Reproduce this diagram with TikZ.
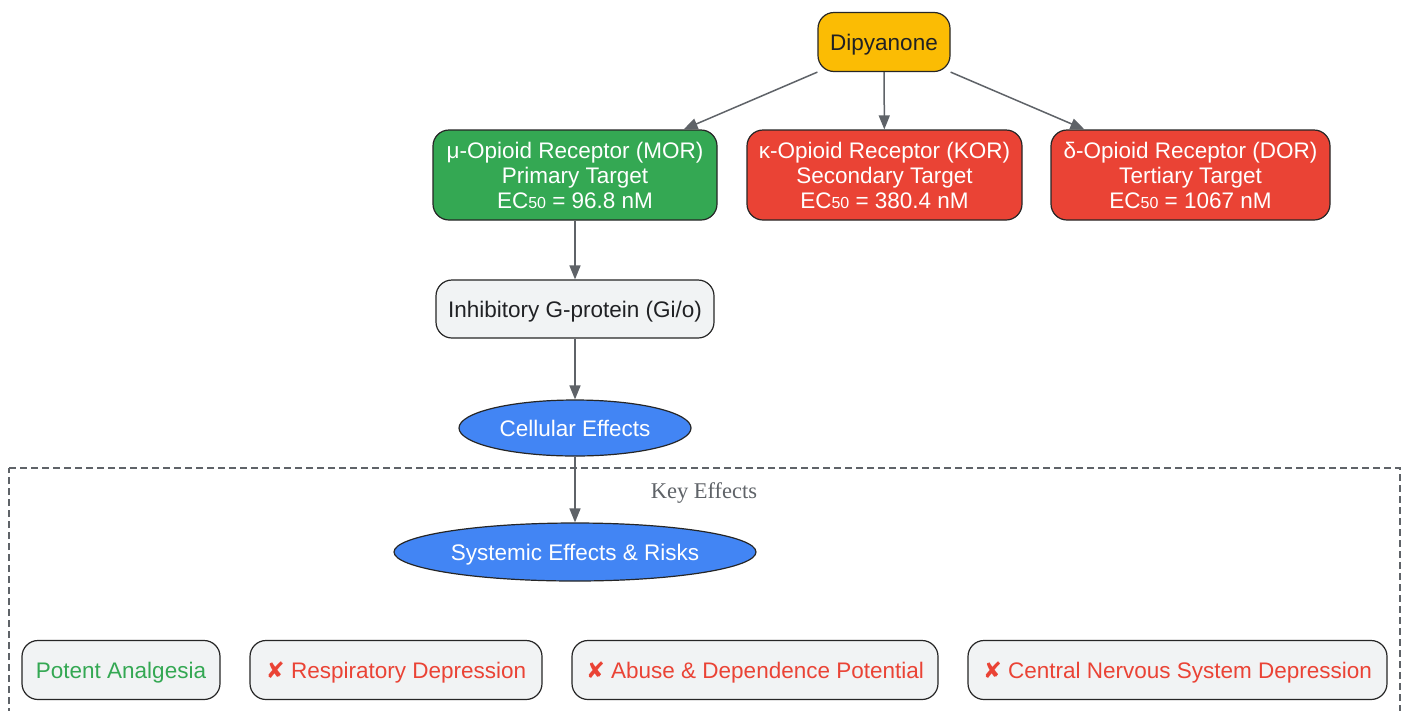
\documentclass[tikz,border=0pt]{standalone}
\usepackage{fontspec}
\setmainfont{Liberation Sans}
\newfontfamily\keyfont{Liberation Serif}
\newfontfamily\symfont{DejaVu Sans}
\usetikzlibrary{arrows.meta,shapes.geometric,positioning}
\definecolor{dipyellow}{HTML}{FBBC04}
\definecolor{morgreen}{HTML}{34A853}
\definecolor{riskred}{HTML}{EA4335}
\definecolor{effblue}{HTML}{4285F4}
\definecolor{boxgray}{HTML}{F1F3F4}
\definecolor{edgegray}{HTML}{5F6368}
\definecolor{darktext}{HTML}{202124}
\newcommand{\ecsub}{EC{\fontsize{16}{16}\selectfont\raisebox{-0.5pt}{50}}}
\newcommand{\cross}{{\symfont\char"2718}}
\tikzset{
    >={Triangle[length=14pt,width=11pt]},
    basebox/.style={
        rectangle,
        rounded corners=16pt,
        draw=black!85, line width=1.2pt,
        align=center,
        inner sep=0pt,
        text depth=0pt,
        font={\fontsize{22.5}{25}\selectfont}
    },
    dipbox/.style={basebox, fill=dipyellow, text=darktext,
        minimum width=132pt, minimum height=59pt},
    targetbox/.style={basebox, text=white,
        minimum height=90pt},
    protbox/.style={basebox, fill=boxgray, text=darktext,
        minimum width=278pt, minimum height=58pt},
    effect/.style={
        ellipse,
        draw=black!85, line width=1.2pt,
        fill=effblue, text=white,
        inner sep=0pt,
        text depth=0pt,
        font={\fontsize{22.5}{25}\selectfont}
    },
    riskbox/.style={basebox, fill=boxgray, text=riskred,
        minimum height=59pt},
    edge/.style={draw=edgegray, line width=1.5pt, ->},
    cluster/.style={draw=edgegray, line width=1.2pt, dash pattern=on 7pt off 4pt},
}
\begin{document}
\begin{tikzpicture}[x=1pt,y=-1pt]
\useasboundingbox[fill=white] (0,0) rectangle (1407,710);
% key effects cluster
\draw[cluster] (9,468) -- (1400,468) -- (1400,715) (9,715) -- (9,468);
\node[font={\keyfont\fontsize{22.5}{26}\selectfont}, text=edgegray, text depth=0pt] (keylab) at (704,491) {Key Effects};
% drug and receptors
\node[dipbox] (dip) at (884,42) {Dipyanone};
\node[targetbox, fill=morgreen, minimum width=284pt] (mor) at (575,175)
    {μ-Opioid Receptor (MOR)\\Primary Target\\\ecsub{} = 96.8 nM};
\node[targetbox, fill=riskred, minimum width=275pt] (kor) at (884.5,175)
    {κ-Opioid Receptor (KOR)\\Secondary Target\\\ecsub{} = 380.4 nM};
\node[targetbox, fill=riskred, minimum width=279pt] (dor) at (1190.5,175)
    {δ-Opioid Receptor (DOR)\\Tertiary Target\\\ecsub{} = 1067 nM};
% signalling
\node[protbox] (gio) at (575,309) {Inhibitory G-protein (Gi/o)};
\node[effect, minimum width=232pt, minimum height=56pt] (cell) at (575,428) {Cellular Effects};
\node[effect, minimum width=362pt, minimum height=58pt] (sys) at (575,552) {Systemic Effects \& Risks};
% outcomes
\node[riskbox, text=morgreen, minimum width=198pt] (analg) at (121,670) {Potent Analgesia};
\node[riskbox, minimum width=292pt] (resp) at (396,670) {\cross{} Respiratory Depression};
\node[riskbox, minimum width=366pt] (abuse) at (755,670) {\cross{} Abuse \& Dependence Potential};
\node[riskbox, minimum width=419pt] (cns) at (1177.5,670) {\cross{} Central Nervous System Depression};
% connectors
\draw[edge] (dip.south west) -- ([xshift=-34pt]mor.north east);
\draw[edge] (dip) -- (kor);
\draw[edge] (dip.south east) -- ([xshift=34pt]dor.north west);
\draw[edge] (mor) -- (gio);
\draw[edge] (gio) -- (cell);
\draw[edge] (cell) -- (sys);
\end{tikzpicture}
\end{document}
